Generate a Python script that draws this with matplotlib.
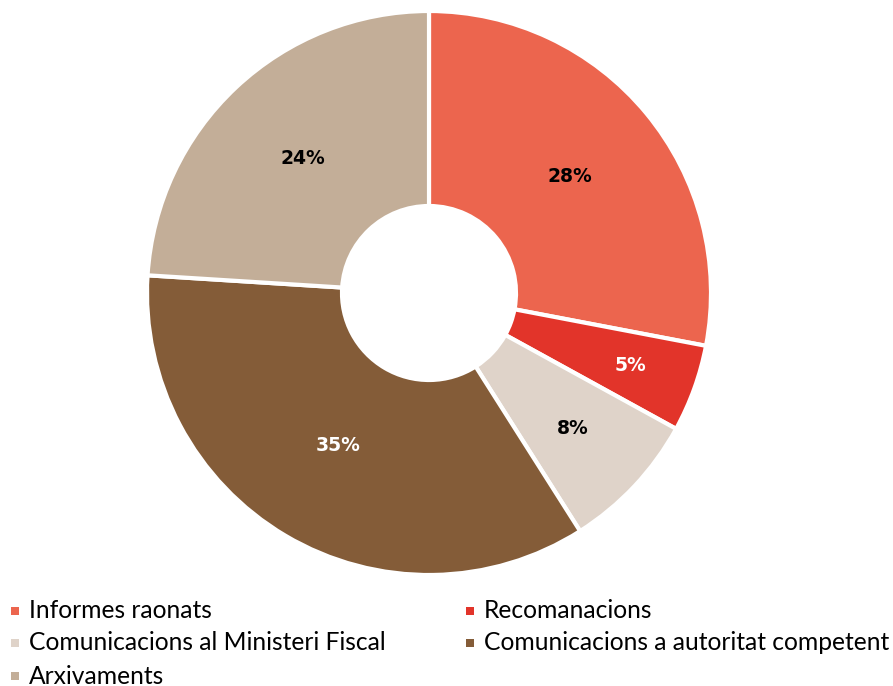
import matplotlib.pyplot as plt
from matplotlib.patches import Rectangle
import numpy as np

labels = ["Informes raonats", "Recomanacions", "Comunicacions al Ministeri Fiscal",
          "Comunicacions a autoritat competent", "Arxivaments"]
values = [28, 5, 8, 35, 24]
colors = ["#EC654E", "#E2342A", "#DFD3C9", "#845C38", "#C3AE98"]
text_colors = ["black", "white", "black", "white", "black"]
label_radius = [0.65, 0.76, 0.70, 0.63, 0.655]

W, H = 893, 686
fig = plt.figure(figsize=(W / 100, H / 100), dpi=100)

cx, cy, R = 429, 293, 282
ax = fig.add_axes([(cx - R) / W, (H - cy - R) / H, 2 * R / W, 2 * R / H])
wedges, _ = ax.pie(values, colors=colors, startangle=90, counterclock=False,
                   radius=1, wedgeprops=dict(width=1 - 87 / R, edgecolor="white", linewidth=3))
ax.set_xlim(-1, 1)
ax.set_ylim(-1, 1)
ax.set_aspect("equal")
ax.axis("off")

total = sum(values)
cum = 0
for v, tc, r in zip(values, text_colors, label_radius):
    mid = np.deg2rad(90 - 360 * (cum + v / 2) / total)
    cum += v
    ax.text(r * np.cos(mid), r * np.sin(mid), f"{v}%", ha="center", va="center",
            fontsize=13.5, fontweight="bold", color=tc, family=["DejaVu Sans"])

# legend
leg_x = [11, 466, 11, 466, 11]
leg_y = [611, 611, 643, 643, 676]
for lab, c, x, y in zip(labels, colors, leg_x, leg_y):
    fig.add_artist(Rectangle(((x) / W, (H - y - 4) / H), 8 / W, 8 / H,
                             transform=fig.transFigure, color=c, lw=0))
    fig.text((x + 18) / W, (H - y) / H, lab, ha="left", va="center",
             fontsize=17.7, family=["Lato", "DejaVu Sans"], color="black")

fig.savefig("out.png", dpi=100)
